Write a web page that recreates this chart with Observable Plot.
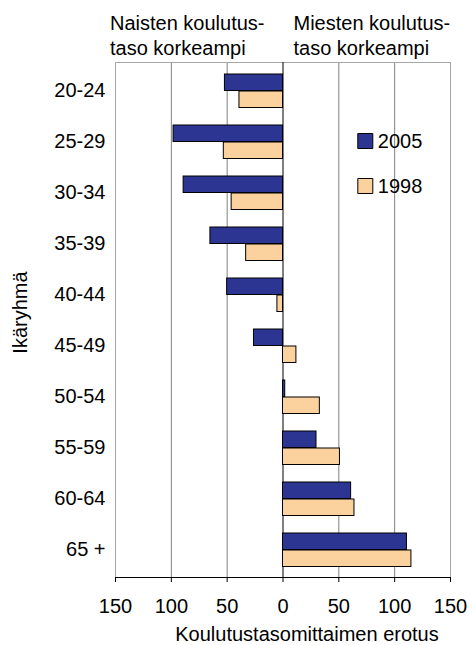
<!DOCTYPE html>
<html>
<head>
<meta charset="utf-8">
<script src="https://cdn.jsdelivr.net/npm/d3@7"></script>
<script src="https://cdn.jsdelivr.net/npm/@observablehq/plot@0.6"></script>
<style>
  html, body { margin: 0; padding: 0; background: #fff; }
</style>
</head>
<body>
<div id="chart"></div>
<script>
const ageGroups = ["20-24", "25-29", "30-34", "35-39", "40-44", "45-49", "50-54", "55-59", "60-64", "65 +"];
const years = ["2005", "1998"];
const values2005 = [-52, -98, -89, -65, -50, -26, 2, 30, 61, 111];
const values1998 = [-39, -53, -46, -33, -5, 12, 33, 51, 64, 115];
const xTicks = [-150, -100, -50, 0, 50, 100, 150];
const xTickLabels = ["150", "100", "50", "0", "50", "100", "150"];
const gridTicks = [-100, -50, 50, 100];
const headerLeft = "Naisten koulutus-\ntaso korkeampi";
const headerRight = "Miesten koulutus-\ntaso korkeampi";
const xLabel = "Koulutustasomittaimen erotus";
const yLabel = "Ikäryhmä";
const colors = ["#2d3593", "#fbd29d"];

const rows = ageGroups.flatMap((age, i) => [
  {age, year: years[0], value: values2005[i]},
  {age, year: years[1], value: values1998[i]}
]);

const font = "Liberation Sans, Arial, sans-serif";

const legendMarks = years.flatMap((yr, i) => [
  Plot.dot([yr], {
    frameAnchor: "top-left", dx: 364.5 - 114.7, dy: 140.5 - 62 + i * 45,
    symbol: "square", r: 8.46, fill: d => d, stroke: "black", strokeWidth: 1
  }),
  Plot.text([yr], {
    frameAnchor: "top-left", dx: 377 - 114.7, dy: 141.5 - 62 + i * 45,
    textAnchor: "start", lineAnchor: "middle", fontSize: 20, fill: "black"
  })
]);

const chart = Plot.plot({
  width: 476,
  height: 645,
  marginLeft: 115,
  marginRight: 26,
  marginTop: 62,
  marginBottom: 68,
  style: {fontFamily: font, fontSize: "20px", color: "#000", background: "#fff"},
  x: {domain: [-150, 150]},
  y: {domain: ageGroups, padding: 0},
  color: {domain: years, range: colors},
  marks: [
    Plot.ruleX(gridTicks, {stroke: "#808080", strokeWidth: 1}),
    Plot.ruleX([-150, 150], {stroke: "#a6a6a6", strokeWidth: 1}),
    Plot.frame({anchor: "top", stroke: "#a6a6a6"}),
    Plot.ruleX([0], {stroke: "black", strokeWidth: 1}),
    Plot.barX(rows.filter(d => d.year === years[0]), {
      x: "value", y: "age", fill: "year", stroke: "black", strokeWidth: 1,
      insetTop: 9, insetBottom: 25.5
    }),
    Plot.barX(rows.filter(d => d.year === years[1]), {
      x: "value", y: "age", fill: "year", stroke: "black", strokeWidth: 1,
      insetTop: 26, insetBottom: 8.5
    }),
    Plot.frame({anchor: "bottom", stroke: "black"}),
    Plot.axisX({
      ticks: xTicks,
      tickFormat: d => xTickLabels[xTicks.indexOf(d)],
      tickSize: 5, tickPadding: 16, label: null, stroke: "black", fontSize: 20
    }),
    Plot.axisY({tickSize: 0, tickPadding: 10, label: null, fontSize: 20}),
    Plot.text([headerLeft], {
      frameAnchor: "top-left", dx: -5.5, dy: -50, textAnchor: "start",
      lineAnchor: "top", lineHeight: 1.25, fontSize: 20, fill: "black"
    }),
    Plot.text([headerRight], {
      frameAnchor: "top", dx: 10.5, dy: -50, textAnchor: "start",
      lineAnchor: "top", lineHeight: 1.25, fontSize: 20, fill: "black"
    }),
    Plot.text([xLabel], {
      frameAnchor: "bottom", dx: 24, dy: 57, lineAnchor: "middle",
      fontSize: 20, fill: "black"
    }),
    Plot.text([yLabel], {
      frameAnchor: "left", dx: -95, dy: -7.5, rotate: -90, textAnchor: "middle",
      lineAnchor: "middle", fontSize: 20, fill: "black"
    }),
    ...legendMarks
  ]
});

document.getElementById("chart").appendChild(chart);
</script>
</body>
</html>
